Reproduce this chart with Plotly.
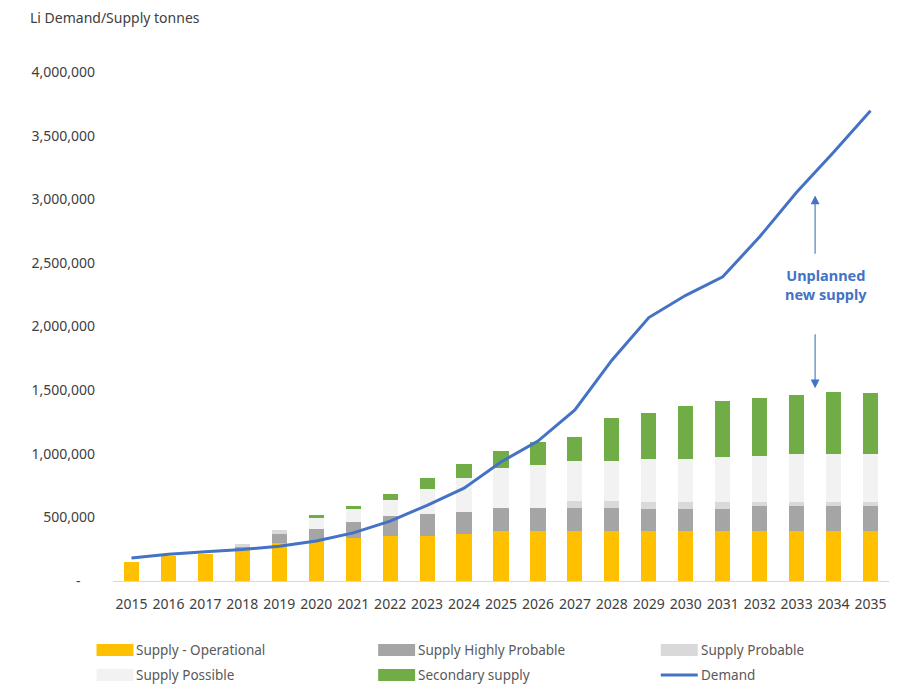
import plotly.graph_objects as go

years = list(range(2015, 2036))
year_labels = [str(y) for y in years]

operational = [150000, 195000, 215000, 240000, 300000, 315000, 340000, 352000, 352000, 371000,
               395000, 395000, 395000, 395000, 395000, 395000, 395000, 395000, 395000, 395000, 395000]
highly_probable = [0, 0, 0, 30000, 73000, 95000, 120000, 155000, 175000, 173000,
                   180000, 180000, 178000, 178000, 173000, 173000, 173000, 191000, 191000, 191000, 191000]
probable = [0, 0, 0, 20000, 24000, 0, 0, 0, 0, 0,
            0, 0, 52000, 52000, 52000, 52000, 52000, 34000, 34000, 34000, 34000]
possible = [0, 0, 0, 0, 0, 85000, 103000, 131000, 194000, 267000,
            314000, 340000, 319000, 319000, 340000, 340000, 353000, 364000, 377000, 377000, 377000]
secondary = [0, 0, 0, 0, 0, 22000, 24000, 45000, 86000, 110000,
             136000, 178000, 191000, 335000, 364000, 416000, 445000, 453000, 466000, 487000, 484000]
demand = [180000, 210000, 230000, 248000, 273000, 315000, 378000, 470000, 595000, 730000,
          935000, 1100000, 1345000, 1735000, 2070000, 2245000, 2390000, 2705000, 3055000, 3370000, 3695000]

y_ticks = [0, 500000, 1000000, 1500000, 2000000, 2500000, 3000000, 3500000, 4000000]
y_tick_text = ["-\u00a0\u00a0\u00a0\u00a0", "500,000", "1,000,000", "1,500,000", "2,000,000",
               "2,500,000", "3,000,000", "3,500,000", "4,000,000"]

series = [
    ("Supply - Operational", operational, "#FFC000"),
    ("Supply Highly Probable", highly_probable, "#A5A5A5"),
    ("Supply Probable", probable, "#D9D9D9"),
    ("Supply Possible", possible, "#F2F2F2"),
    ("Secondary supply", secondary, "#70AD47"),
]
demand_color = "#4472C4"

FONT = "'Noto Sans', 'Open Sans', sans-serif"
TEXT = "#404040"

fig = go.Figure()
for name, vals, col in series:
    fig.add_trace(go.Bar(x=years, y=vals, name=name, marker=dict(color=col, line=dict(width=0)),
                         width=0.41, showlegend=False))
fig.add_trace(go.Scatter(x=years, y=demand, name="Demand", mode="lines",
                         line=dict(color=demand_color, width=3), showlegend=False))

# target page geometry (pixels); the page body adds an 8px offset
W, H = 905, 684
OFF = 8
L, R, T, B = 112.5, 889.5, 71.5, 581.0


def px(xp):
    return (xp - L) / (R - L)


def py(yp):
    return (B - yp) / (B - T)


# manual legend
legend_items = [
    ("Supply - Operational", "#FFC000", 96, 650, "bar"),
    ("Supply Highly Probable", "#A5A5A5", 378, 650, "bar"),
    ("Supply Probable", "#D9D9D9", 661, 650, "bar"),
    ("Supply Possible", "#F2F2F2", 96, 675, "bar"),
    ("Secondary supply", "#70AD47", 378, 675, "bar"),
    ("Demand", demand_color, 661, 675, "line"),
]
shapes = []
annotations = []
for label, col, x0, yc, kind in legend_items:
    if kind == "bar":
        shapes.append(dict(type="rect", xref="paper", yref="paper",
                           x0=px(x0), x1=px(x0 + 37), y0=py(yc + 6), y1=py(yc - 6),
                           fillcolor=col, line=dict(width=0)))
    else:
        shapes.append(dict(type="line", xref="paper", yref="paper",
                           x0=px(x0), x1=px(x0 + 37), y0=py(yc), y1=py(yc),
                           line=dict(color=col, width=3)))
    annotations.append(dict(text=label, xref="paper", yref="paper", x=px(x0 + 38), y=py(yc),
                            xanchor="left", yanchor="middle", showarrow=False,
                            font=dict(family=FONT, size=13.5, color="#595959")))

# title
annotations.append(dict(text="Li Demand/Supply tonnes", xref="paper", yref="paper",
                        x=px(27), y=py(17), xanchor="left", yanchor="middle", showarrow=False,
                        font=dict(family=FONT, size=14, color=TEXT)))

# callout
annotations.append(dict(text="<b>Unplanned<br>new supply</b>", x=2033.8, y=2330000, xref="x", yref="y",
                        showarrow=False, align="center",
                        font=dict(family=FONT, size=14.5, color=demand_color)))
annotations.append(dict(x=2033.5, y=3030000, ax=2033.5, ay=2560000, xref="x", yref="y",
                        axref="x", ayref="y", text="", showarrow=True, arrowhead=2,
                        arrowsize=1.6, arrowwidth=1.1, arrowcolor=demand_color))
annotations.append(dict(x=2033.5, y=1515000, ax=2033.5, ay=1950000, xref="x", yref="y",
                        axref="x", ayref="y", text="", showarrow=True, arrowhead=2,
                        arrowsize=1.6, arrowwidth=1.1, arrowcolor=demand_color))

fig.update_layout(
    width=W, height=H,
    margin=dict(l=L - OFF, r=W - (R - OFF), t=T - OFF, b=H - (B - OFF)),
    paper_bgcolor="white", plot_bgcolor="white",
    barmode="stack", bargap=0.59,
    showlegend=False,
    shapes=shapes, annotations=annotations,
    font=dict(family=FONT, color=TEXT),
)
fig.update_xaxes(range=[2014.5, 2035.5], tickvals=years, ticktext=year_labels, tickangle=0,
                 showgrid=False, zeroline=False, showline=True, linecolor="#D9D9D9", linewidth=1,
                 ticks="", ticklabelstandoff=10,
                 tickfont=dict(family=FONT, size=14, color=TEXT))
fig.update_yaxes(range=[0, 4000000], tickvals=y_ticks, ticktext=y_tick_text,
                 showgrid=False, zeroline=False, showline=False, ticks="",
                 ticklabelstandoff=17,
                 tickfont=dict(family=FONT, size=14, color=TEXT))

fig.write_html("out.html")
